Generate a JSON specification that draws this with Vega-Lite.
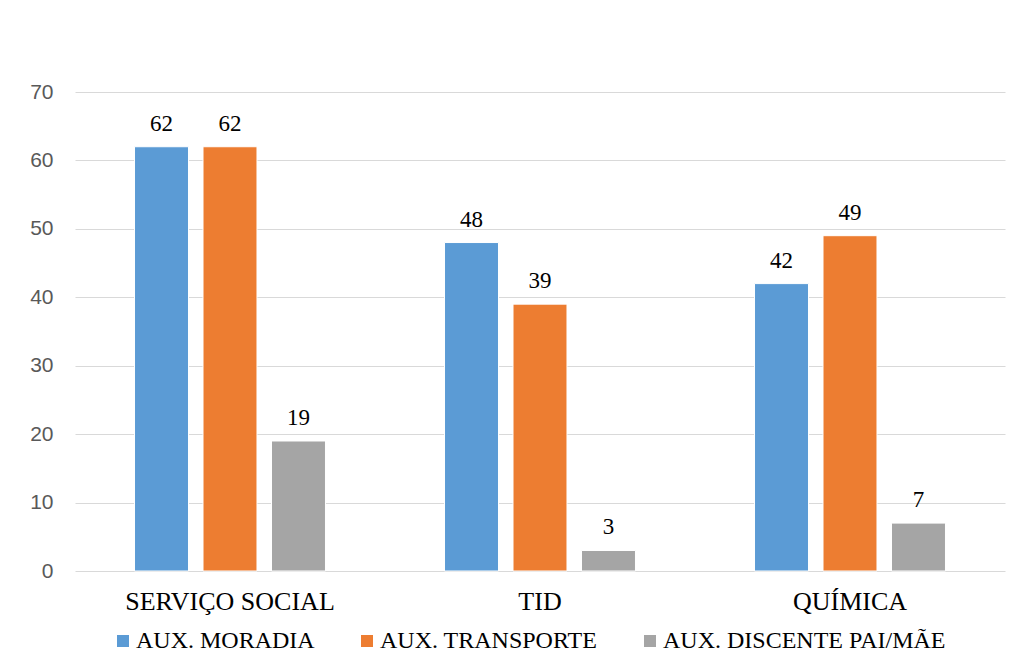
{
  "$schema": "https://vega.github.io/schema/vega-lite/v6.json",
  "autosize": {"type": "none"},
  "width": 930,
  "height": 479,
  "padding": {"left": 75, "top": 92, "right": 21, "bottom": 101},
  "background": "white",
  "config": {
    "view": {"stroke": null},
    "axis": {"grid": false}
  },
  "data": {
    "values": [
      {"curso": "SERVIÇO SOCIAL", "auxilio": "AUX. MORADIA", "valor": 62},
      {"curso": "SERVIÇO SOCIAL", "auxilio": "AUX. TRANSPORTE", "valor": 62},
      {"curso": "SERVIÇO SOCIAL", "auxilio": "AUX. DISCENTE PAI/MÃE", "valor": 19},
      {"curso": "TID", "auxilio": "AUX. MORADIA", "valor": 48},
      {"curso": "TID", "auxilio": "AUX. TRANSPORTE", "valor": 39},
      {"curso": "TID", "auxilio": "AUX. DISCENTE PAI/MÃE", "valor": 3},
      {"curso": "QUÍMICA", "auxilio": "AUX. MORADIA", "valor": 42},
      {"curso": "QUÍMICA", "auxilio": "AUX. TRANSPORTE", "valor": 49},
      {"curso": "QUÍMICA", "auxilio": "AUX. DISCENTE PAI/MÃE", "valor": 7}
    ]
  },
  "encoding": {
    "x": {
      "field": "curso", "type": "nominal",
      "sort": ["SERVIÇO SOCIAL", "TID", "QUÍMICA"],
      "scale": {"paddingInner": 0, "paddingOuter": 0},
      "axis": {
        "title": null, "labelAngle": 0, "ticks": false, "domain": false,
        "labelFont": "Liberation Serif", "labelFontSize": 26, "labelColor": "#000000",
        "labelPadding": 17, "labelBaseline": "top", "labelLimit": 400
      }
    },
    "xOffset": {
      "field": "auxilio", "type": "nominal",
      "sort": ["AUX. MORADIA", "AUX. TRANSPORTE", "AUX. DISCENTE PAI/MÃE"],
      "scale": {"paddingInner": 0.212, "paddingOuter": 0.869}
    },
    "y": {
      "field": "valor", "type": "quantitative",
      "scale": {"domain": [0, 70], "nice": false},
      "axis": {
        "title": null, "values": [0, 10, 20, 30, 40, 50, 60, 70],
        "grid": true, "gridColor": "#d9d9d9", "gridWidth": 1,
        "domain": false, "ticks": false,
        "labelFont": "Liberation Sans", "labelFontSize": 21, "labelColor": "#595959",
        "labelPadding": 22
      }
    }
  },
  "layer": [
    {
      "mark": {"type": "bar", "stroke": "#ffffff", "strokeWidth": 1},
      "encoding": {
        "color": {
          "field": "auxilio", "type": "nominal",
          "sort": ["AUX. MORADIA", "AUX. TRANSPORTE", "AUX. DISCENTE PAI/MÃE"],
          "scale": {"range": ["#5B9BD5", "#ED7D31", "#A5A5A5"]},
          "legend": {
            "title": null, "orient": "none", "direction": "horizontal",
            "legendX": 36, "legendY": 537,
            "symbolType": "square", "symbolSize": 144, "symbolStrokeWidth": 0,
            "labelFont": "Liberation Serif", "labelFontSize": 24, "labelColor": "#000000",
            "labelOffset": 1, "columnPadding": 40, "labelLimit": 400
          }
        }
      }
    },
    {
      "mark": {"type": "text", "font": "Liberation Serif", "fontSize": 23, "color": "#000000", "baseline": "alphabetic", "dy": -16},
      "encoding": {
        "text": {"field": "valor", "type": "quantitative"}
      }
    }
  ]
}
